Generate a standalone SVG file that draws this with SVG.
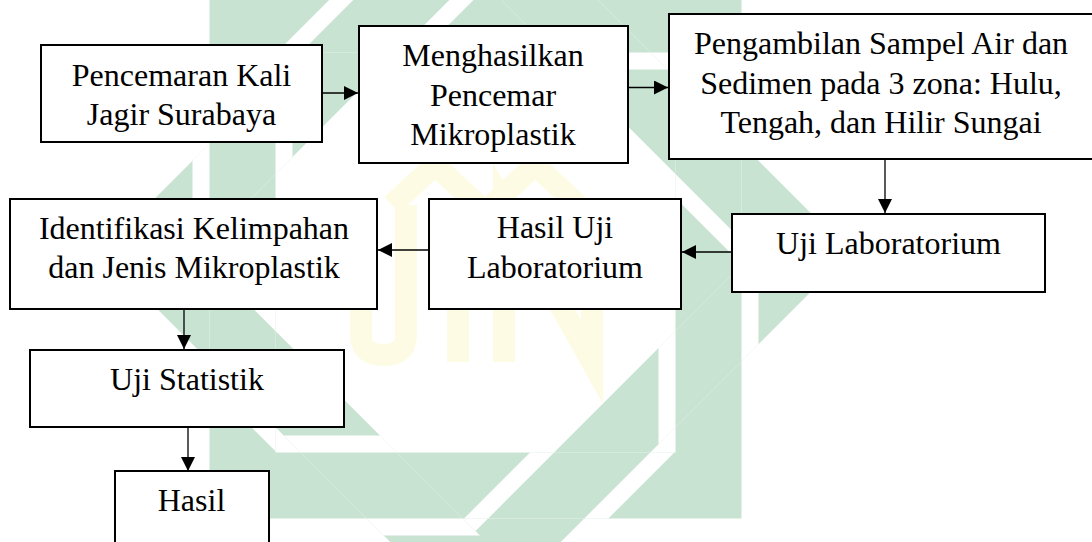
<svg xmlns="http://www.w3.org/2000/svg" width="1092" height="542" viewBox="0 0 1092 542">
<style>
.wm{fill:#c9e3d3}
.gap{fill:#ffffff}
.yl{fill:none;stroke:#fefbe4;stroke-width:22}
.box{fill:#ffffff;stroke:#000000;stroke-width:2}
.t{font-family:"Liberation Serif","Times New Roman",serif;font-size:32px;fill:#000000;text-anchor:middle}
.c{stroke:#000000;stroke-width:1.3;fill:none;marker-end:url(#ah)}
</style>
<defs>
<marker id="ah" markerUnits="userSpaceOnUse" markerWidth="14" markerHeight="14" refX="14" refY="7" orient="auto">
<path d="M0,0 L14,7 L0,14 z" fill="#000000"/>
</marker>
<clipPath id="aT"><rect x="-266" y="-266" width="532" height="66"/></clipPath>
<clipPath id="aB"><rect x="-266" y="200" width="532" height="66"/></clipPath>
<clipPath id="aL"><rect x="-266" y="-266" width="66" height="532"/></clipPath>
<clipPath id="aR"><rect x="200" y="-266" width="66" height="532"/></clipPath>
<clipPath id="dT"><rect transform="rotate(45)" x="-265" y="-265" width="530" height="68"/></clipPath>
<clipPath id="dB"><rect transform="rotate(45)" x="-265" y="197" width="530" height="68"/></clipPath>
<clipPath id="dL"><rect transform="rotate(45)" x="-265" y="-265" width="68" height="530"/></clipPath>
<clipPath id="dR"><rect transform="rotate(45)" x="197" y="-265" width="68" height="530"/></clipPath>
</defs>
<rect x="0" y="0" width="1092" height="542" fill="#ffffff"/>
<g id="watermark" transform="translate(475.5,252.5)">
<path class="wm" fill-rule="evenodd" d="M-266,-266 H266 V266 H-266 Z M-200,-200 V200 H200 V-200 Z"/>
<path class="wm" fill-rule="evenodd" transform="rotate(45)" d="M-265,-265 H265 V265 H-265 Z M-197,-197 V197 H197 V-197 Z"/>
<g clip-path="url(#aT)"><rect class="gap" transform="rotate(45)" x="-282" y="-265" width="102" height="530"/><rect class="wm" transform="rotate(45)" x="-265" y="-265" width="68" height="530"/></g>
<g clip-path="url(#dT)"><rect class="gap" x="-266" y="-283" width="532" height="100"/><rect class="wm" x="-266" y="-266" width="532" height="66"/></g>
<g clip-path="url(#aR)"><rect class="gap" transform="rotate(45)" x="-265" y="-282" width="530" height="102"/><rect class="wm" transform="rotate(45)" x="-265" y="-265" width="530" height="68"/></g>
<g clip-path="url(#dR)"><rect class="gap" x="183" y="-266" width="100" height="532"/><rect class="wm" x="200" y="-266" width="66" height="532"/></g>
<g clip-path="url(#aB)"><rect class="gap" transform="rotate(45)" x="180" y="-265" width="102" height="530"/><rect class="wm" transform="rotate(45)" x="197" y="-265" width="68" height="530"/></g>
<g clip-path="url(#dB)"><rect class="gap" x="-266" y="183" width="532" height="100"/><rect class="wm" x="-266" y="200" width="532" height="66"/></g>
<g clip-path="url(#aL)"><rect class="gap" transform="rotate(45)" x="-265" y="180" width="530" height="102"/><rect class="wm" transform="rotate(45)" x="-265" y="197" width="530" height="68"/></g>
<g clip-path="url(#dL)"><rect class="gap" x="-283" y="-266" width="100" height="532"/><rect class="wm" x="-266" y="-266" width="66" height="532"/></g>
</g>
<g id="watermark-letters">
<path class="yl" d="M361,205 V335 Q361,355 384,355 Q406,355 406,335 V205"/>
<path class="yl" d="M458,205 V362"/>
<path class="yl" d="M504,362 V205 L592,362 V205"/>
<path class="yl" d="M392,205 L435,165 L478,205 M492,205 L535,165 L578,205"/>
</g>
<g id="connectors">
<line class="c" x1="323" y1="93" x2="358" y2="93"/>
<line class="c" x1="629" y1="87.5" x2="668" y2="87.5"/>
<line class="c" x1="885" y1="160" x2="885" y2="213"/>
<line class="c" x1="731" y1="252" x2="682" y2="252"/>
<line class="c" x1="428" y1="250" x2="378" y2="250"/>
<line class="c" x1="184" y1="310" x2="184" y2="349"/>
<line class="c" x1="188" y1="428" x2="188" y2="471"/>
</g>
<g id="n1">
<rect class="box" x="41" y="45" width="281" height="97"/>
<text class="t" x="181.5" y="86">Pencemaran Kali</text>
<text class="t" x="181.5" y="125">Jagir Surabaya</text>
</g>
<g id="n2">
<rect class="box" x="359" y="26" width="269" height="137"/>
<text class="t" x="493" y="66">Menghasilkan</text>
<text class="t" x="493" y="105.5">Pencemar</text>
<text class="t" x="493" y="145">Mikroplastik</text>
</g>
<g id="n3">
<rect class="box" x="669" y="14" width="430" height="145"/>
<text class="t" x="881" y="54">Pengambilan Sampel Air dan</text>
<text class="t" x="881" y="93.5">Sedimen pada 3 zona: Hulu,</text>
<text class="t" x="881" y="133">Tengah, dan Hilir Sungai</text>
</g>
<g id="n4">
<rect class="box" x="732" y="214" width="313" height="78"/>
<text class="t" x="888.5" y="254">Uji Laboratorium</text>
</g>
<g id="n5">
<rect class="box" x="429" y="199" width="252" height="110"/>
<text class="t" x="555" y="238">Hasil Uji</text>
<text class="t" x="555" y="277.5">Laboratorium</text>
</g>
<g id="n6">
<rect class="box" x="10" y="199" width="367" height="110"/>
<text class="t" x="194" y="238.5">Identifikasi Kelimpahan</text>
<text class="t" x="194" y="278">dan Jenis Mikroplastik</text>
</g>
<g id="n7">
<rect class="box" x="30" y="350" width="314" height="77"/>
<text class="t" x="187" y="390">Uji Statistik</text>
</g>
<g id="n8">
<rect class="box" x="115" y="471" width="154" height="100"/>
<text class="t" x="191.5" y="511">Hasil</text>
</g>
</svg>
